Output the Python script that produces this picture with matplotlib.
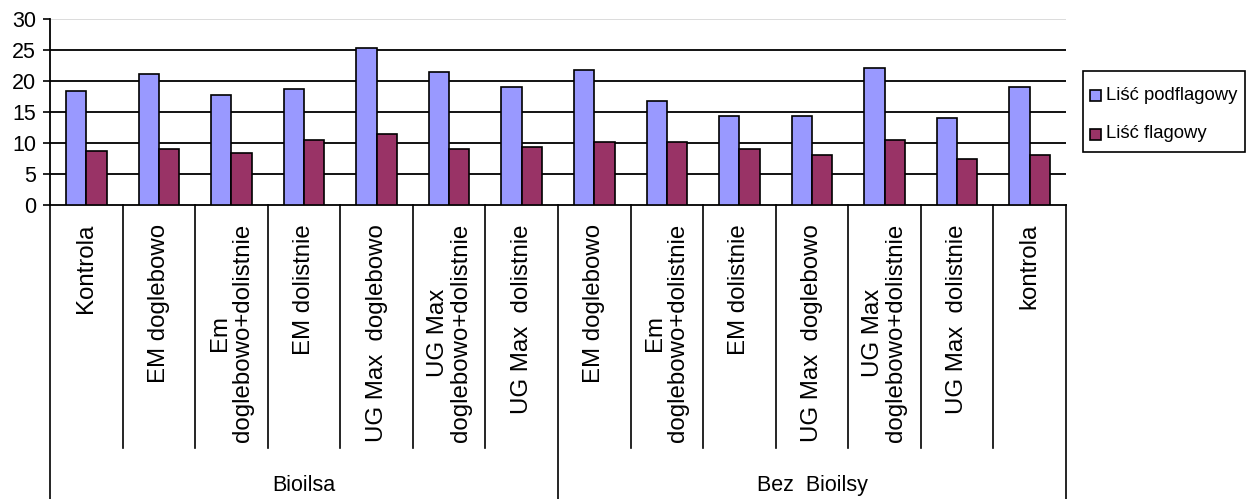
import matplotlib
matplotlib.use("Agg")
import matplotlib.pyplot as plt
import matplotlib.transforms as mtransforms
from matplotlib.patches import Rectangle
import numpy as np

# Leaf measurements by treatment, grouped by biostimulant use
groups = ["Bioilsa", "Bez  Bioilsy"]
categories = [
    "Kontrola", "EM doglebowo", "Em\ndoglebowo+dolistnie", "EM dolistnie",
    "UG Max  doglebowo", "UG Max\ndoglebowo+dolistnie", "UG Max  dolistnie",
    "EM doglebowo", "Em\ndoglebowo+dolistnie", "EM dolistnie",
    "UG Max  doglebowo", "UG Max\ndoglebowo+dolistnie", "UG Max  dolistnie",
    "kontrola",
]
group_sizes = [7, 7]
podflagowy = [18.4, 21.2, 17.8, 18.7, 25.3, 21.5, 19.0,
              21.8, 16.8, 14.3, 14.3, 22.1, 14.0, 19.0]
flagowy = [8.7, 9.0, 8.4, 10.5, 11.5, 9.0, 9.3,
           10.2, 10.2, 9.0, 8.1, 10.5, 7.5, 8.1]
series_names = ["Liść podflagowy", "Liść flagowy"]
series_colors = ["#9999FF", "#993366"]
y_ticks = [0, 5, 10, 15, 20, 25, 30]

font = ["Liberation Sans", "DejaVu Sans"]

W, H = 1246, 499
fig = plt.figure(figsize=(W / 100, H / 100), dpi=100)
ax_left, ax_right, ax_bottom, ax_top = 50, 1066, 205, 19.3
ax = fig.add_axes([ax_left / W, 1 - ax_bottom / H,
                   (ax_right - ax_left) / W, (ax_bottom - ax_top) / H])

n = len(categories)
x = np.arange(n)
bw = 0.28
for off, vals, col in zip([-bw / 2, bw / 2], [podflagowy, flagowy], series_colors):
    ax.bar(x + off, vals, bw, color=col, edgecolor="black",
           linewidth=1.2, zorder=3)

ax.set_xlim(-0.5, n - 0.5)
ax.set_ylim(0, 30)
ax.set_yticks(y_ticks)
ax.set_yticklabels([str(t) for t in y_ticks], family=font, fontsize=15.5)
ax.tick_params(axis="y", length=5, width=1.2, pad=5, colors="black")
ax.set_xticks([])

for t in y_ticks[1:-1]:
    ax.axhline(t, color="black", linewidth=1.3, zorder=1)
ax.axhline(30, color="#d9d9d9", linewidth=1.3, zorder=1)

for s in ["top", "right"]:
    ax.spines[s].set_visible(False)
ax.spines["left"].set_linewidth(1.3)
ax.spines["bottom"].set_linewidth(1.3)

# Hierarchical category axis below the plot
ax_h = ax_bottom - ax_top
trans = mtransforms.blended_transform_factory(ax.transData, ax.transAxes)
cat_end = -(448 - ax_bottom) / ax_h
full_end = -(H - ax_bottom) / ax_h
group_edges = np.concatenate([[0], np.cumsum(group_sizes)]) - 0.5
for b in np.arange(n + 1) - 0.5:
    end = full_end if np.any(np.isclose(b, group_edges)) else cat_end
    ax.plot([b, b], [0, end], color="black", linewidth=1.2,
            transform=trans, clip_on=False)

label_top = -(224 - ax_bottom) / ax_h
for xi, lab in zip(x, categories):
    ax.text(xi, label_top, lab, rotation=90, ha="center", va="top",
            multialignment="center", family=font, fontsize=17.3,
            linespacing=1.05, transform=trans)

group_y = -(485 - ax_bottom) / ax_h
for g, (a, b) in zip(groups, zip(group_edges[:-1], group_edges[1:])):
    ax.text((a + b) / 2, group_y, g, ha="center", va="center",
            family=font, fontsize=15.5, transform=trans)

# Legend box at the right, drawn in figure pixel coordinates
px = mtransforms.Affine2D().scale(1 / W, -1 / H).translate(0, 1) + fig.transFigure
fig.patches.append(Rectangle((1083, 70.7), 162, 81.3, transform=px,
                             facecolor="white", edgecolor="black",
                             linewidth=1.2))
for yc, name, col in zip([95, 134], series_names, series_colors):
    fig.patches.append(Rectangle((1090, yc - 5.5), 11, 11, transform=px,
                                 facecolor=col, edgecolor="black",
                                 linewidth=1.2))
    fig.text(1106, yc, name, transform=px, ha="left", va="center",
             family=font, fontsize=13.3)

fig.savefig("out.png", dpi=100, facecolor="white")
